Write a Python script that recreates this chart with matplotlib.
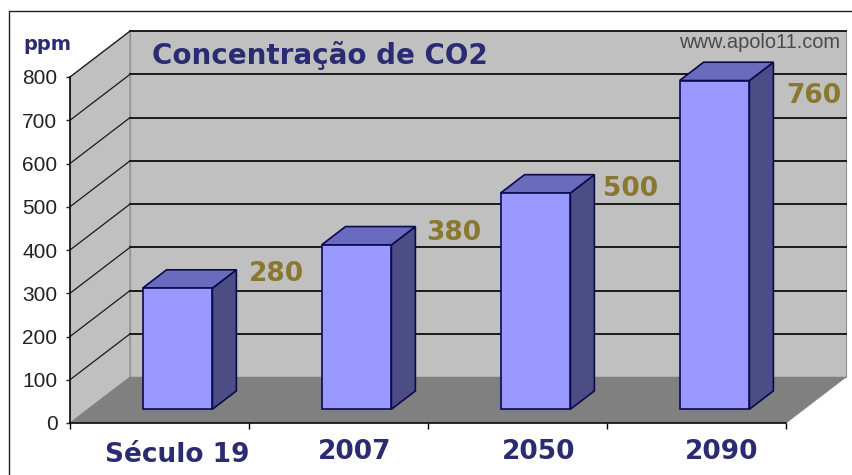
import matplotlib
matplotlib.use("Agg")
import matplotlib.pyplot as plt
from matplotlib.lines import Line2D
from matplotlib.patches import Polygon

categories = ["Século 19", "2007", "2050", "2090"]
values = [280, 380, 500, 760]
yticks = [0, 100, 200, 300, 400, 500, 600, 700, 800]

# one depth step of the fake 3d box, in data units
DX = 0.335
DY = 106
BAR_W = 0.39
NAVY = "#2b2b72"
GOLD = "#8a7730"

plt.rcParams["font.family"] = ["Liberation Sans", "DejaVu Sans"]

fig = plt.figure(figsize=(8.53, 4.75), dpi=100)
ax = fig.add_axes([70 / 853, 52 / 475, 716 / 853, 346 / 475])
ax.set_xlim(0, 4)
ax.set_ylim(0, 800)
ax.patch.set_alpha(0)


def poly(points, face, edge="none", lw=0, z=1):
    ax.add_patch(Polygon(points, closed=True, facecolor=face, edgecolor=edge,
                         linewidth=lw, zorder=z, clip_on=False, joinstyle="miter"))


# walls and floor
poly([(0, 0), (DX, DY), (DX, 800 + DY), (0, 800)], "#c0c0c0", "#909090", 0.8)
poly([(DX, DY), (4 + DX, DY), (4 + DX, 800 + DY), (DX, 800 + DY)], "#c0c0c0", "#909090", 0.8)
poly([(0, 0), (4, 0), (4 + DX, DY), (DX, DY)], "#808080", "#808080", 0.5)

# grid on both walls
for v in yticks[1:]:
    ax.plot([0, DX], [v, v + DY], color="#1a1a1a", lw=0.9, zorder=2, clip_on=False)
    ax.plot([DX, 4 + DX], [v + DY, v + DY], color="#1a1a1a", lw=1.4, zorder=2, clip_on=False)

# bars, front face sits 0.3 of the way into the box
for i, val in enumerate(values):
    x0 = i + 0.5 - BAR_W / 2 + 0.3 * DX
    x1 = x0 + BAR_W
    y0 = 0.3 * DY
    y1 = y0 + val
    ox = 0.4 * DX
    oy = 0.4 * DY
    edge = "#0a0a50"
    poly([(x1, y0), (x1 + ox, y0 + oy), (x1 + ox, y1 + oy), (x1, y1)], "#4d4d85", edge, 1.2, 3)
    poly([(x0, y1), (x1, y1), (x1 + ox, y1 + oy), (x0 + ox, y1 + oy)], "#6a6abf", edge, 1.2, 3)
    poly([(x0, y0), (x1, y0), (x1, y1), (x0, y1)], "#9999ff", edge, 1.2, 4)

# value labels are placed by hand in the original
label_x = [1.154, 2.145, 3.13, 4.156]
label_y = [345, 440, 540, 755]
for lx, ly, val in zip(label_x, label_y, values):
    ax.text(lx, ly, str(val), color=GOLD, fontsize=19, fontweight="bold",
            family="DejaVu Sans", ha="center", va="center", zorder=5, clip_on=False)

# category labels, not quite centred on their slots
cat_x = [0.60, 1.59, 2.62, 3.64]
cat_y = [-75, -68, -68, -68]
for cx, cy, name in zip(cat_x, cat_y, categories):
    ax.text(cx, cy, name, color=NAVY, fontsize=19, fontweight="bold",
            family="DejaVu Sans", ha="center", va="center", clip_on=False)

for side in ["top", "right"]:
    ax.spines[side].set_visible(False)
for side in ["left", "bottom"]:
    ax.spines[side].set_zorder(6)
    ax.spines[side].set_linewidth(1.1)
ax.set_yticks(yticks)
ax.set_xticks([0, 1, 2, 3, 4])
ax.set_xticklabels([])
ax.tick_params(axis="y", length=3, width=1, pad=6, labelsize=15, colors="#222222")
ax.tick_params(axis="x", length=4, width=1)

fig.text(152 / 853, 1 - 55 / 475, "Concentração de CO2", color=NAVY, fontsize=20,
         fontweight="bold", family="DejaVu Sans", va="center", ha="left")
fig.text(23 / 853, 1 - 44 / 475, "ppm", color=NAVY, fontsize=14, fontweight="bold",
         family="DejaVu Sans", va="center", ha="left")
fig.text(840 / 853, 1 - 43 / 475, "www.apolo11.com", color="#4a4a4a", fontsize=14.4,
         va="center", ha="right")

# outer frame, only left and top show in the crop
fig.add_artist(Line2D([9 / 853, 9 / 853, 1], [0, 1 - 11 / 475, 1 - 11 / 475], color="#222222", lw=1))

fig.savefig("out.png", dpi=100)
